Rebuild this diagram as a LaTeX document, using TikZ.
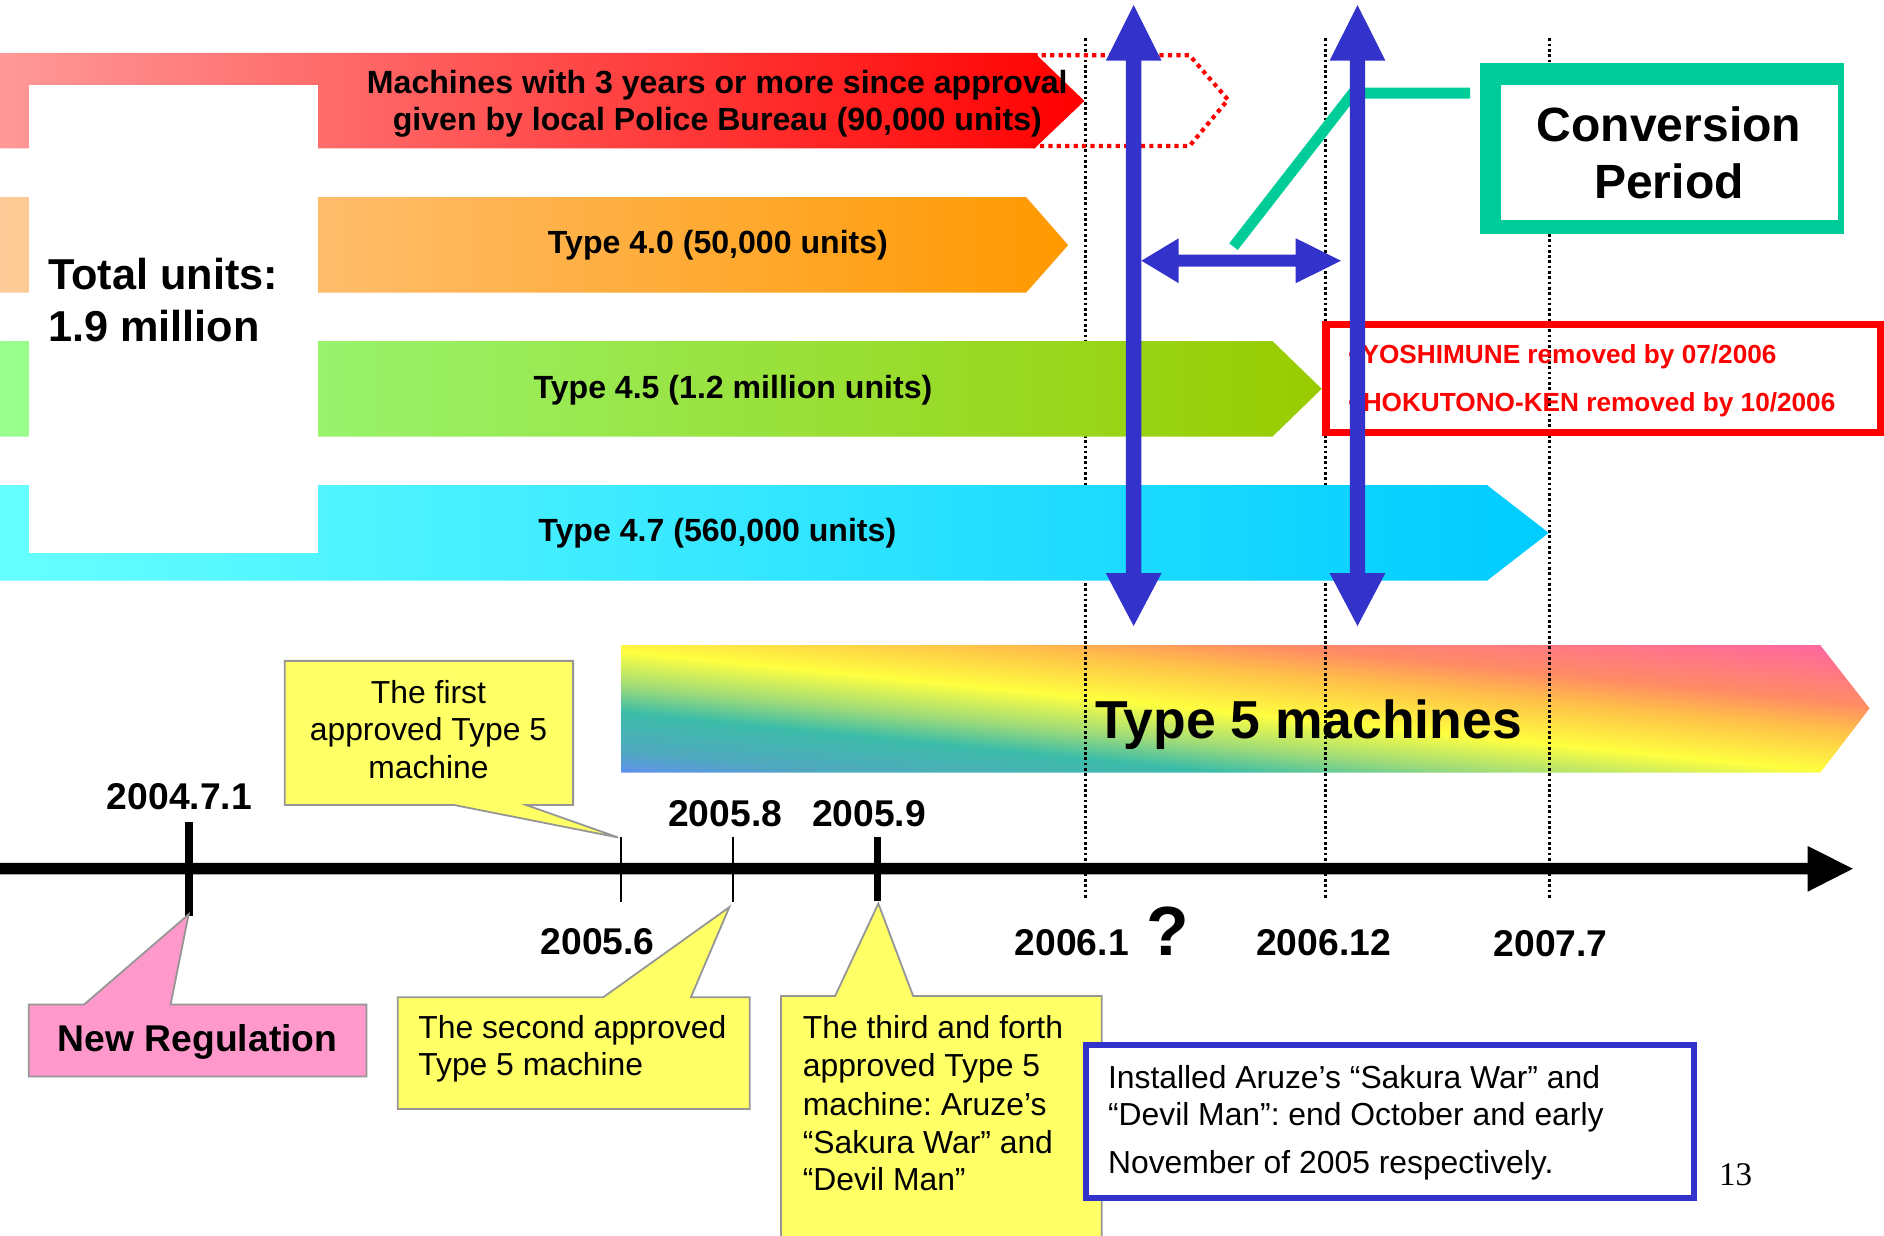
\documentclass[tikz,border=0pt]{standalone}
\usepackage{fontspec}
\setmainfont{Liberation Sans}
\newfontfamily\pagenumfont{Liberation Serif}
\definecolor{redL}{HTML}{FF9999}
\definecolor{redM}{HTML}{FF7373}
\definecolor{redR}{HTML}{FF0000}
\definecolor{orgL}{HTML}{FFCC99}
\definecolor{orgR}{HTML}{FF9900}
\definecolor{grnL}{HTML}{99FF8F}
\definecolor{grnR}{HTML}{99CC00}
\definecolor{cyaL}{HTML}{66FFFF}
\definecolor{cyaR}{HTML}{00CCFF}
\definecolor{convgreen}{HTML}{00CC99}
\definecolor{arrowblue}{HTML}{3333CC}
\definecolor{callyellow}{HTML}{FFFF66}
\definecolor{callpink}{HTML}{FF99CC}
\definecolor{callgray}{HTML}{969696}
\definecolor{rbA}{HTML}{6090F0}
\definecolor{rbB}{HTML}{50A8C0}
\definecolor{rbC}{HTML}{3CBCA8}
\definecolor{rbD}{HTML}{A0DC78}
\definecolor{rbE}{HTML}{FFFF40}
\definecolor{rbF}{HTML}{FFC048}
\definecolor{rbG}{HTML}{FF8C64}
\definecolor{rbH}{HTML}{FF66A0}
\pgfdeclareverticalshading{rainbowfive}{1300bp}{color(0bp)=(rbA); color(10bp)=(rbA); color(28bp)=(rbB); color(61bp)=(rbC); color(83bp)=(rbD); color(111bp)=(rbE); color(146bp)=(rbF); color(169bp)=(rbG); color(216bp)=(rbH); color(240bp)=(rbH)}
\frenchspacing
\begin{document}
\begin{tikzpicture}[x=1pt,y=-1pt,
  barlbl/.style={font=\bfseries\fontsize{26.7}{31}\selectfont, anchor=base, inner sep=0pt},
  totlbl/.style={font=\bfseries\fontsize{36}{42}\selectfont, anchor=base west, inner sep=0pt},
  convlbl/.style={font=\bfseries\fontsize{40}{48}\selectfont, anchor=base, inner sep=0pt},
  remlbl/.style={font=\bfseries\fontsize{21.8}{26}\selectfont, text=red, anchor=base west, inner sep=0pt},
  datelbl/.style={font=\bfseries\fontsize{31}{37}\selectfont, anchor=base, inner sep=0pt},
  calltxt/.style={font=\fontsize{26.5}{31}\selectfont, inner sep=0pt},
  callbox/.style={fill=callyellow, draw=callgray, line width=1.5pt, line join=miter},
  dotline/.style={black, line width=2.2pt, dash pattern=on 2.2pt off 2.2pt},
  reddots/.style={red, line width=3.5pt, dash pattern=on 3.5pt off 3.5pt},
  bluearrow/.style={fill=arrowblue}
]
\useasboundingbox (0,0) rectangle (1568,1028);
\clip (0,0) rectangle (1568,1028);

% ---- Type 5 bar (rainbow) ----
\begin{scope}
  \clip (517,537) -- (1515,537) -- (1556,589.5) -- (1515,643) -- (517,643) -- cycle;
  \node[rotate=-5.71, inner sep=0pt, outer sep=0pt] (t5shade) at (1036,584.6) {\pgfuseshading{rainbowfive}};
\end{scope}

% ---- dotted vertical guide lines ----
\coordinate (d1t) at (903.5,32);  \coordinate (d1b) at (903.5,748);
\coordinate (d2t) at (1103.3,32); \coordinate (d2b) at (1103.3,748);
\coordinate (d3t) at (1289.6,32); \coordinate (d3b) at (1289.6,748);
\draw[dotline] (d1t) -- (d1b);
\draw[dotline] (d2t) -- (d2b);
\draw[dotline] (d3t) -- (d3b);

\node[font=\bfseries\fontsize{44.5}{52}\selectfont, anchor=base, inner sep=0pt] (t5) at (1089,614.5) {Type 5 machines};

% ---- Type 4 bars ----
\shade[left color=redL, middle color=redM, right color=redR] (0,44) -- (861,44) -- (902.5,84) -- (861,123.5) -- (0,123.5) -- cycle;
\shade[left color=orgL, right color=orgR] (0,164) -- (854,164) -- (889,204) -- (854,243.6) -- (0,243.6) -- cycle;
\shade[left color=grnL, right color=grnR] (0,283.8) -- (1059,283.8) -- (1100,323.6) -- (1059,363.4) -- (0,363.4) -- cycle;
\shade[left color=cyaL, right color=cyaR] (0,403.7) -- (1237.6,403.7) -- (1289,443.5) -- (1237.6,483.3) -- (0,483.3) -- cycle;
\fill[white] (24,71) rectangle (264.4,460);

% red dotted extension
\draw[reddots] (860,46) -- (990,46) -- (1022,83) -- (990,121.5) -- (858,121.5);

% bar labels
\node[barlbl] (redtxt1) at (597,77.7) {Machines with 3 years or more since approval};
\node[barlbl] (redtxt2) at (597,108.2) {given by local Police Bureau (90,000 units)};
\node[barlbl] (t40) at (597.5,210.8) {Type 4.0 (50,000 units)};
\node[barlbl] (t45) at (610,331.5) {Type 4.5 (1.2 million units)};
\node[barlbl] (t47) at (597,450.8) {Type 4.7 (560,000 units)};
\node[totlbl] (tot1) at (40,241) {Total units:};
\node[totlbl] (tot2) at (40,284.5) {1.9 million};

% ---- Conversion period box and pointer ----
\fill[convgreen] (1231.5,52.7) rectangle (1534.4,195);
\fill[white] (1249,70.7) rectangle (1529.6,183);
\node[convlbl] (conv1) at (1389,117.9) {Conversion};
\node[convlbl] (conv2) at (1389,165.6) {Period};
\coordinate (convleft) at (1223.5,77.5);
\coordinate (convbend) at (1126,77.5);
\coordinate (convend) at (1026.6,205.3);
\draw[convgreen, line width=9pt] (convleft) -- (convbend) -- (convend);

% ---- removal box ----
\draw[red, line width=6pt] (1103.5,270.2) rectangle (1565,359.8);
\node[remlbl, anchor=base] (bul1) at (1126,302.4) {•};
\node[remlbl, anchor=base] (bul2) at (1126,342.6) {•};
\node[remlbl] (rem1) at (1133,302.4) {YOSHIMUNE removed by 07/2006};
\node[remlbl] (rem2) at (1134,342.6) {HOKUTONO-KEN removed by 10/2006};

% ---- blue arrows ----
\fill[bluearrow] (943.5,4.2) -- (966.7,50.5) -- (949.9,50.5) -- (949.9,477) -- (966.7,477) -- (943.5,521) -- (920.3,477) -- (937.1,477) -- (937.1,50.5) -- (920.3,50.5) -- cycle;
\fill[bluearrow] (1129.8,4.2) -- (1153,50.5) -- (1136.2,50.5) -- (1136.2,477) -- (1153,477) -- (1129.8,521) -- (1106.6,477) -- (1123.4,477) -- (1123.4,50.5) -- (1106.6,50.5) -- cycle;
\fill[bluearrow] (950,217) -- (981,198.3) -- (981,212) -- (1078.4,212) -- (1078.4,198.3) -- (1116,217) -- (1078.4,235.7) -- (1078.4,222) -- (981,222) -- (981,235.7) -- cycle;

% ---- time axis ----
\fill[black] (0,718.2) -- (1504.5,718.2) -- (1504.5,704.1) -- (1542,723) -- (1504.5,742.1) -- (1504.5,727.8) -- (0,727.8) -- cycle;
\fill[black] (154.2,684) rectangle (160.8,762.4);
\draw[black, line width=1.5pt] (517,696.4) -- (517,750.5);
\draw[black, line width=1.5pt] (610.3,696.4) -- (610.3,750.5);
\fill[black] (727.4,697) rectangle (733.3,750);

\node[datelbl] (d0471) at (149.3,674) {2004.7.1};
\node[datelbl] (d058) at (603.5,687.5) {2005.8};
\node[datelbl] (d059) at (723.3,687.5) {2005.9};
\node[datelbl] (d056) at (497.5,794) {2005.6};
\node[datelbl] (d061) at (892,795) {2006.1};
\node[font=\bfseries\fontsize{58}{64}\selectfont, anchor=base, inner sep=0pt] (qmark) at (972,795.6) {?};
\node[datelbl] (d0612) at (1101.5,795) {2006.12};
\node[datelbl] (d077) at (1290.5,796.2) {2007.7};

% ---- callouts ----
\filldraw[callbox] (237,550) -- (477,550) -- (477,670) -- (438,670) -- (514.5,697) -- (378,670) -- (237,670) -- cycle;
\node[calltxt, anchor=base] (c1a) at (356.6,585.4) {The first};
\node[calltxt, anchor=base] (c1b) at (356.6,615.9) {approved Type 5};
\node[calltxt, anchor=base] (c1c) at (356.6,647.8) {machine};

\filldraw[fill=callpink, draw=callgray, line width=1.5pt] (24,836) -- (70,836) -- (157,761) -- (142,836) -- (305,836) -- (305,896) -- (24,896) -- cycle;
\node[font=\bfseries\fontsize{31}{36}\selectfont, anchor=base, inner sep=0pt] (newreg) at (164.5,875.3) {New Regulation};

\filldraw[callbox] (331,830) -- (502,830) -- (607,755) -- (575,830) -- (624,830) -- (624,923) -- (331,923) -- cycle;
\node[calltxt, anchor=base west] (c2a) at (348,864.2) {The second approved};
\node[calltxt, anchor=base west] (c2b) at (348,894.7) {Type 5 machine};

\filldraw[callbox] (650,829) -- (695,829) -- (731,752) -- (760,829) -- (917,829) -- (917,1040) -- (650,1040) -- cycle;
\node[calltxt, anchor=base west] (c3a) at (668,864.2) {The third and forth};
\node[calltxt, anchor=base west] (c3b) at (668,896) {approved Type 5};
\node[calltxt, anchor=base west] (c3c) at (668,928) {machine: Aruze’s};
\node[calltxt, anchor=base west] (c3d) at (668,960) {“Sakura War” and};
\node[calltxt, anchor=base west] (c3e) at (668,990.4) {“Devil Man”};

% ---- installed note ----
\filldraw[fill=white, draw=arrowblue, line width=5pt] (904,870) rectangle (1409.5,997);
\node[calltxt, anchor=base west] (n1) at (922,905.8) {Installed Aruze’s “Sakura War” and};
\node[calltxt, anchor=base west] (n2) at (922,936.3) {“Devil Man”: end October and early};
\node[calltxt, anchor=base west] (n3) at (922,976.5) {November of 2005 respectively.};

\node[font=\pagenumfont\fontsize{27.5}{32}\selectfont, anchor=base, inner sep=0pt] (pnum) at (1444.5,987) {13};
\end{tikzpicture}
\end{document}
